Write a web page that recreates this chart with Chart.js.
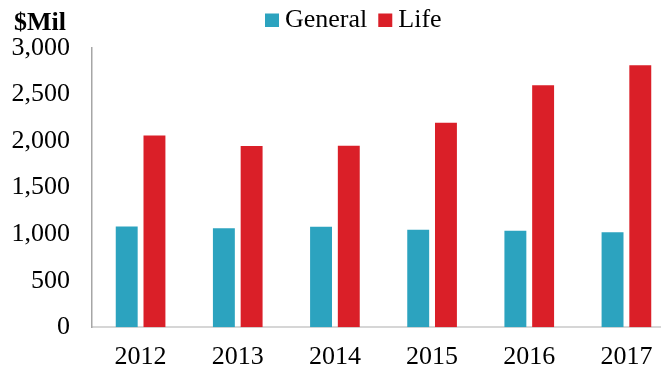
<!DOCTYPE html>
<html>
<head>
<meta charset="utf-8">
<script src="https://cdn.jsdelivr.net/npm/chart.js@4"></script>
<style>
    html, body { margin: 0; padding: 0; background: #fff; overflow: hidden; }
    #wrap { width: 675px; height: 373px; position: relative; }
</style>
</head>
<body>
<div id="wrap"><canvas id="premium-chart"></canvas></div>
<script>
const years = ['2012', '2013', '2014', '2015', '2016', '2017'];
const generalValues = [1082, 1065, 1079, 1047, 1036, 1022];
const lifeValues = [2059, 1948, 1951, 2198, 2600, 2815];
const yTicks = [0, 500, 1000, 1500, 2000, 2500, 3000];
const unitLabel = '$Mil';

const serif = "'Liberation Serif', 'Times New Roman', serif";

// Unit label in the top-left corner plus a compact legend row
const headerPlugin = {
    id: 'header',
    afterDraw(chart) {
        const c = chart.ctx;
        c.save();
        c.textAlign = 'left';
        c.textBaseline = 'alphabetic';
        c.fillStyle = '#000';
        c.font = "bold 26px " + serif;
        c.fillText(unitLabel, 14, 30);

        c.font = "26px " + serif;
        let x = 265;
        chart.data.datasets.forEach(ds => {
            c.fillStyle = ds.backgroundColor;
            c.fillRect(x, 13.5, 14, 13.5);
            c.fillStyle = '#000';
            c.fillText(ds.label, x + 20, 27);
            x += 20 + c.measureText(ds.label).width + 11;
        });
        c.restore();
    }
};

const ctx = document.getElementById('premium-chart').getContext('2d');
new Chart(ctx, {
    type: 'bar',
    data: {
        labels: years,
        datasets: [
            {
                label: 'General',
                data: generalValues,
                backgroundColor: '#2ca3bf',
                borderWidth: 0,
                categoryPercentage: 0.571,
                barPercentage: 0.79
            },
            {
                label: 'Life',
                data: lifeValues,
                backgroundColor: '#da1f28',
                borderWidth: 0,
                categoryPercentage: 0.571,
                barPercentage: 0.79
            }
        ]
    },
    options: {
        responsive: true,
        maintainAspectRatio: false,
        animation: false,
        layout: { padding: { left: 0, right: 0, top: 48, bottom: 0 } },
        plugins: {
            legend: { display: false },
            tooltip: { enabled: false }
        },
        scales: {
            x: {
                afterFit: scale => { scale.height = 45.7; },
                grid: { display: false, drawTicks: false },
                border: { display: true, color: '#d6d6d6', width: 2 },
                ticks: {
                    color: '#000',
                    font: { family: serif, size: 26 },
                    padding: 14,
                    maxRotation: 0
                }
            },
            y: {
                min: 0,
                max: 3000,
                afterFit: scale => { scale.width = 92; },
                afterBuildTicks: scale => {
                    scale.ticks = yTicks.map(v => ({ value: v }));
                },
                grid: { display: false, drawTicks: false },
                border: { display: true, color: '#a6a6a6', width: 1.5 },
                ticks: {
                    color: '#000',
                    font: { family: serif, size: 26 },
                    padding: 22,
                    callback: v => v.toLocaleString('en-US')
                }
            }
        }
    },
    plugins: [headerPlugin]
});
</script>
</body>
</html>
